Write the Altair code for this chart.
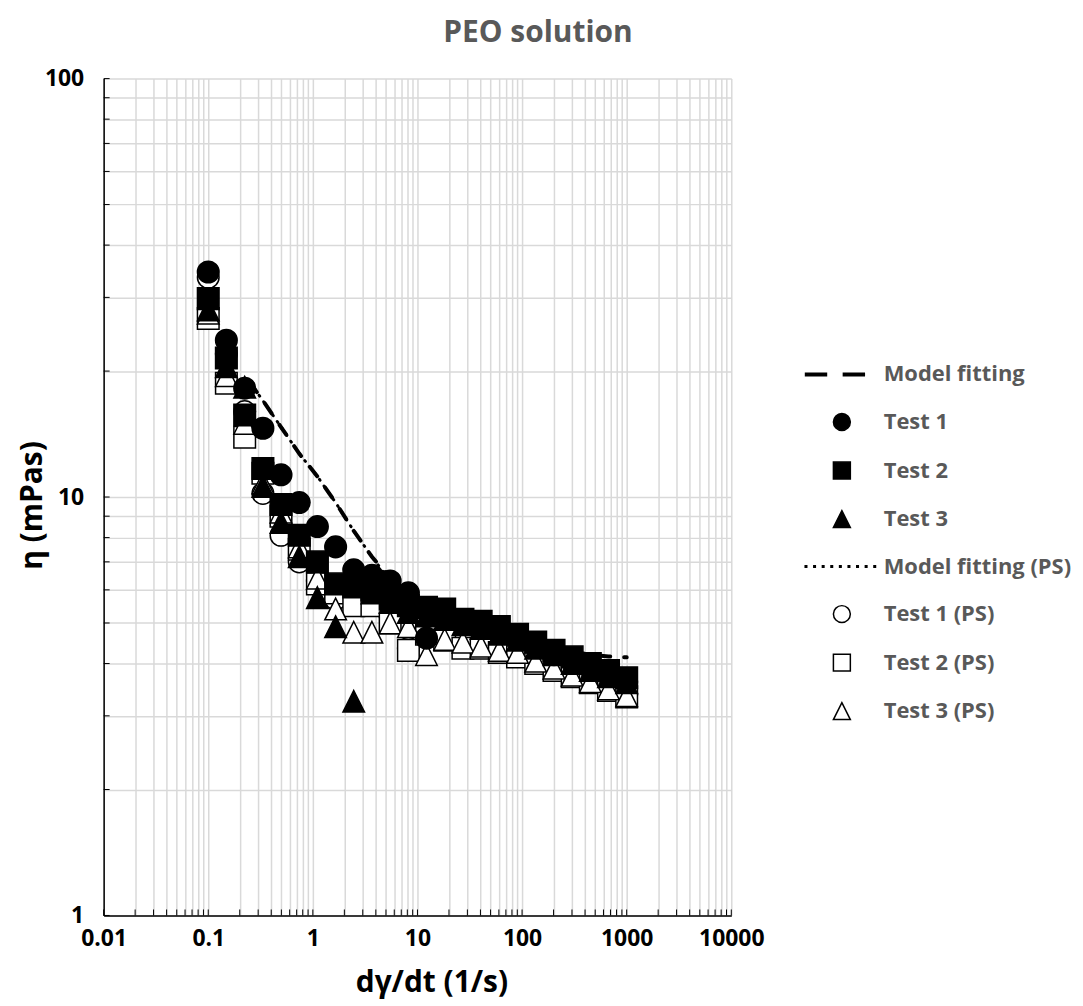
import altair as alt
import pandas as pd

# ---------------- data ----------------
SHEAR_RATE = [0.1, 0.149, 0.223, 0.333, 0.496, 0.741, 1.105, 1.65, 2.46, 3.67, 5.48, 8.19,
              12.2, 18.2, 27.2, 40.6, 60.6, 90.5, 135, 202, 301, 449, 670, 1000]
TEST1 = [34.5, 23.7, 18.2, 14.6, 11.3, 9.7, 8.5, 7.6, 6.7, 6.5, 6.3, 5.9,
         4.6, 5.2, 5.0, 4.95, 4.8, 4.6, 4.4, 4.2, 4.05, 3.9, 3.75, 3.62]
TEST2 = [29.8, 21.5, 15.7, 11.7, 9.6, 8.1, 7.0, 6.2, 6.1, 6.0, 5.7, 5.5,
         5.45, 5.4, 5.1, 5.05, 4.9, 4.7, 4.5, 4.3, 4.15, 4.0, 3.85, 3.7]
TEST3 = [28.0, 20.5, 18.3, 10.6, 8.7, 7.2, 5.75, 4.9, 3.25, 5.9, 5.6, 5.3,
         5.2, 5.1, 4.95, 4.85, 4.7, 4.55, 4.35, 4.2, 4.0, 3.85, 3.72, 3.6]
TEST1_PS = [33.5, 22.0, 16.0, 10.2, 8.1, 7.0, 6.3, 5.7, 5.7, 5.7, 5.2, 4.35,
            4.8, 4.65, 4.5, 4.45, 4.35, 4.2, 4.05, 3.9, 3.78, 3.65, 3.5, 3.38]
TEST2_PS = [26.7, 18.7, 13.9, 11.4, 9.0, 7.5, 6.2, 5.9, 5.5, 5.5, 5.0, 4.3,
            4.7, 4.55, 4.35, 4.35, 4.25, 4.15, 4.0, 3.85, 3.72, 3.6, 3.45, 3.33]
TEST3_PS = [27.5, 19.5, 15.0, 10.8, 9.2, 7.6, 6.4, 5.4, 4.75, 4.75, 5.0, 4.9,
            4.2, 4.57, 4.5, 4.4, 4.3, 4.25, 4.05, 3.9, 3.75, 3.62, 3.48, 3.35]

MODEL_RATE = [0.25, 0.333, 0.496, 0.741, 1.105, 1.65, 2.46, 3.67, 5.48, 8.19, 12.2,
              18.2, 27.2, 40.6, 60.6, 90.5, 135, 202, 301, 449, 670, 1000]
MODEL = [18.8, 17.0, 14.7, 12.7, 11.2, 9.7, 8.3, 7.2, 6.4, 5.9, 5.5,
         5.25, 5.05, 4.9, 4.75, 4.6, 4.48, 4.36, 4.27, 4.2, 4.16, 4.14]
MODEL_PS = [18.8, 17.0, 14.7, 12.7, 11.2, 9.7, 8.3, 7.2, 6.3, 5.7, 5.3,
            5.0, 4.8, 4.6, 4.45, 4.3, 4.15, 4.0, 3.9, 3.8, 3.7, 3.6]

SERIES = ["Model fitting", "Test 1", "Test 2", "Test 3",
          "Model fitting (PS)", "Test 1 (PS)", "Test 2 (PS)", "Test 3 (PS)"]

X_DECADES = [0.01, 0.1, 1, 10, 100, 1000, 10000]
Y_DECADES = [1, 10, 100]

TITLE = "PEO solution"
X_TITLE = "dγ/dt (1/s)"
Y_TITLE = "η (mPas)"

# ---------------- tables ----------------
pts = []
for name, vals in [("Test 1 (PS)", TEST1_PS), ("Test 2 (PS)", TEST2_PS), ("Test 3 (PS)", TEST3_PS),
                   ("Test 1", TEST1), ("Test 2", TEST2), ("Test 3", TEST3)]:
    for xv, yv in zip(SHEAR_RATE, vals):
        pts.append({"x": xv, "y": yv, "series": name})
pts = pd.DataFrame(pts)

model_df = pd.DataFrame({"x": MODEL_RATE, "y": MODEL})
model_ps_df = pd.DataFrame({"x": MODEL_RATE, "y": MODEL_PS})

x_ticks = sorted(set([round(m * 10.0 ** e, 6) for e in range(-2, 4) for m in range(1, 10)] + [10000]))
y_ticks = sorted(set([round(m * 10.0 ** e, 6) for e in range(0, 2) for m in range(1, 10)] + [100]))
xt_df = pd.DataFrame({"x": x_ticks})
yt_df = pd.DataFrame({"y": y_ticks})

# ---------------- style ----------------
W, H = 630, 840
FONT = "Open Sans"
GRID = "#d9d9d9"

x_axis = alt.Axis(
    values=x_ticks, grid=True, gridColor=GRID, gridWidth=1.5, ticks=False,
    domainColor="black", domainWidth=1.5,
    labelExpr="indexof(%s, datum.value) >= 0 ? '' + datum.value : ''" % str(X_DECADES),
    labelFont=FONT, labelFontSize=23, labelFontWeight="bold", labelColor="black",
    labelPadding=12, labelFlush=False, labelOverlap=False,
    title=X_TITLE, titleFont=FONT, titleFontSize=30, titleFontWeight="bold", titleColor="black",
    titleX=329, titleY=67, titleBaseline="middle", titleAlign="center",
)
y_axis = alt.Axis(
    values=y_ticks, grid=True, gridColor=GRID, gridWidth=1.5, ticks=False,
    domainColor="black", domainWidth=1.5,
    labelExpr="indexof(%s, datum.value) >= 0 ? '' + datum.value : ''" % str(Y_DECADES),
    labelFont=FONT, labelFontSize=23, labelFontWeight="bold", labelColor="black",
    labelPadding=20, labelFlush=False, labelOverlap=False,
    title=Y_TITLE, titleFont=FONT, titleFontSize=30, titleFontWeight="bold", titleColor="black",
    titleX=-71, titleY=428, titleBaseline="middle", titleAlign="center", titleAngle=270,
)
xs = alt.Scale(type="log", domain=[0.01, 10000], nice=False)
ys = alt.Scale(type="log", domain=[1, 100], nice=False)
X = alt.X("x:Q", scale=xs, axis=x_axis)
Y = alt.Y("y:Q", scale=ys, axis=y_axis)

# legend symbols (unit coords scaled by sqrt(size)/2)
dash_path = ("M-4.29,-0.147 L-1.82,-0.147 L-1.82,0.147 L-4.29,0.147 Z "
             "M0.18,-0.147 L2.65,-0.147 L2.65,0.147 L0.18,0.147 Z")
dots = []
for i in range(9):
    c = -4.24 + i * 1.015
    dots.append("M%.3f,-0.09 L%.3f,-0.09 L%.3f,0.09 L%.3f,0.09 Z" % (c - 0.09, c + 0.09, c + 0.09, c - 0.09))
dot_path = " ".join(dots)
tri = "M0,-1 L1,1 L-1,1 Z"

shape_range = [dash_path, "circle", "square", tri, dot_path, "circle", "square", tri]
fill_range = ["black", "black", "black", "black", "black", "white", "white", "white"]
stroke_range = ["black"] * 8

legend = alt.Legend(
    title=None, orient="none", legendX=730, legendY=286, direction="vertical",
    symbolSize=289, symbolStrokeWidth=1.5, symbolStrokeColor="black", symbolOpacity=1,
    labelFont=FONT, labelFontSize=22, labelFontWeight="bold", labelColor="#595959",
    labelOffset=31, rowPadding=24.7, padding=0, labelLimit=400,
)

# ---------------- layers ----------------
xtick_layer = alt.Chart(xt_df).mark_rule(color="black", strokeWidth=1).encode(
    x=X, y=alt.value(H), y2=alt.value(H - 6))
ytick_layer = alt.Chart(yt_df).mark_rule(color="black", strokeWidth=1).encode(
    y=Y, x=alt.value(0), x2=alt.value(6))

model_layer = alt.Chart(model_df).mark_line(
    color="black", strokeWidth=4, strokeDash=[12, 14], strokeCap="round").encode(x=X, y=Y)
model_ps_layer = alt.Chart(model_ps_df).mark_line(
    color="black", strokeWidth=3, strokeDash=[1, 7], strokeCap="round").encode(x=X, y=Y)

point_layer = alt.Chart(pts).mark_point(
    filled=True, opacity=1, size=470, strokeWidth=1.5).encode(
    x=X, y=Y,
    shape=alt.Shape("series:N", scale=alt.Scale(domain=SERIES, range=shape_range), legend=legend),
    fill=alt.Fill("series:N", scale=alt.Scale(domain=SERIES, range=fill_range), legend=legend),
    stroke=alt.Stroke("series:N", scale=alt.Scale(domain=SERIES, range=stroke_range), legend=legend),
)

chart = alt.layer(xtick_layer, ytick_layer, model_layer, model_ps_layer, point_layer).properties(
    width=W, height=H,
    title=alt.TitleParams(TITLE, font=FONT, fontSize=30, fontWeight="bold", color="#595959",
                          anchor="middle", dx=121, offset=20),
    autosize=alt.AutoSizeParams(type="none"),
    padding={"left": 96, "top": 69, "right": 345, "bottom": 85},
).configure_view(stroke=None)

chart.save("out.html", embed_options={"renderer": "svg", "actions": False})
